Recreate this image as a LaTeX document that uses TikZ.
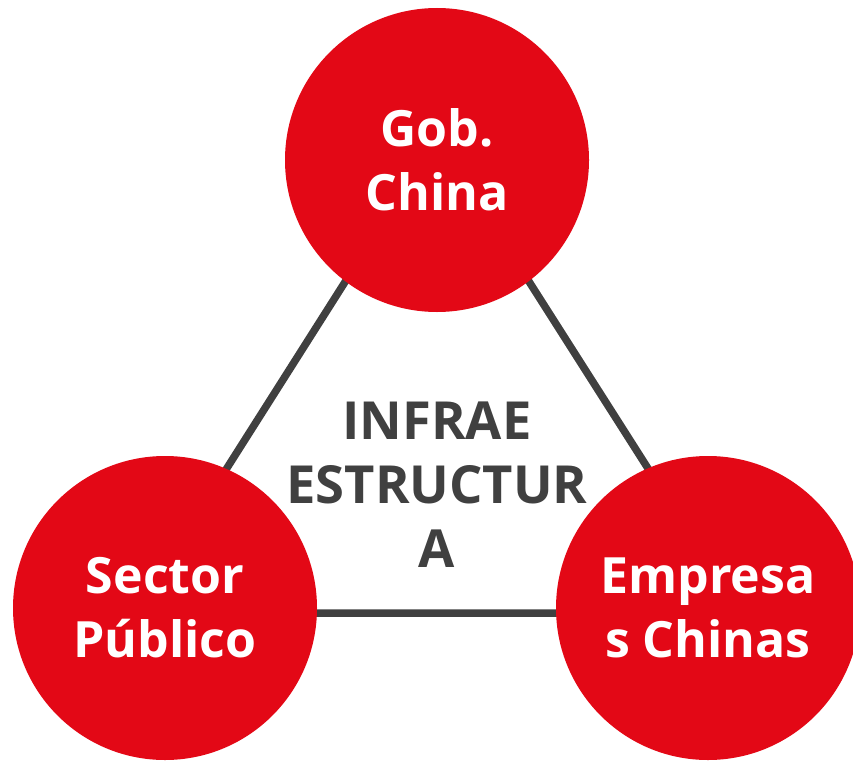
\documentclass[tikz,border=0pt]{standalone}
\usepackage{fontspec}
\setmainfont{Open Sans}
\usepackage{tikz}

\definecolor{hubred}{RGB}{227,8,22}
\definecolor{linegray}{RGB}{64,64,64}

\begin{document}
\begin{tikzpicture}[
  x={(1pt,0)}, y={(0,-1pt)},
  actor/.style={circle, fill=hubred, text=white, minimum size=304pt, inner sep=0pt,
    align=center, font=\bfseries\fontsize{50}{64}\selectfont},
  link/.style={draw=linegray, line width=7.5pt}]

  \useasboundingbox (0,0) rectangle (853,760);

  \coordinate (T) at (437,137);
  \coordinate (L) at (135,613);
  \coordinate (R) at (740,613);

  \path[link] (T) -- (L) -- (R) -- cycle;

  \node[actor] (gob) at (437,160) {Gob.\\China};
  \node[actor] (sector) at (165,608) {Sector\\Público};
  \node[actor] (empresas) at (708,608) {Empresa\\s Chinas};

  \node[text=linegray, align=center, font=\bfseries\fontsize{52.5}{64}\selectfont] (infra) at (437,485) {INFRAE\\ESTRUCTUR\\A};

\end{tikzpicture}
\end{document}
